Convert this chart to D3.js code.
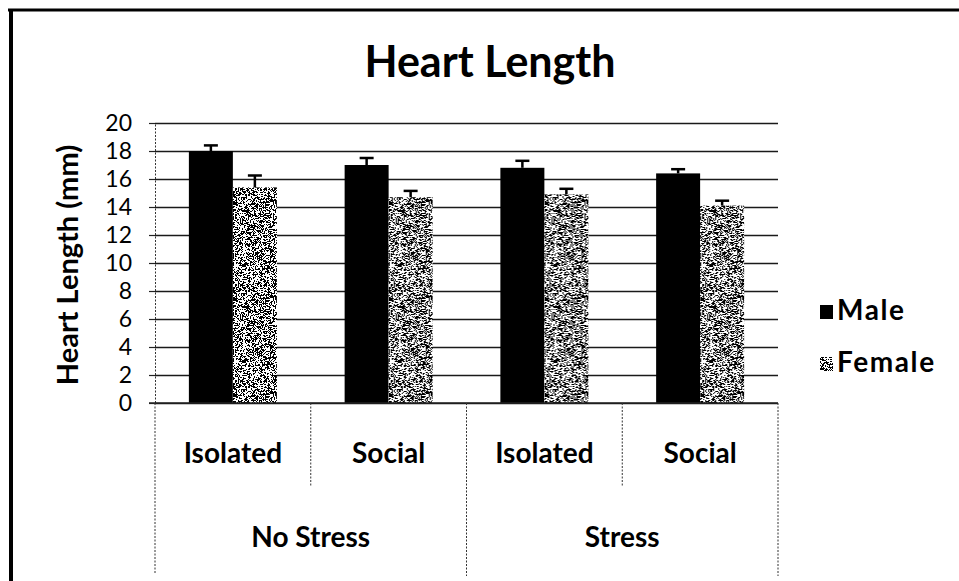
<!DOCTYPE html>
<html>
<head>
<meta charset="utf-8">
<script src="https://cdn.jsdelivr.net/npm/d3@7"></script>
<style>
	html, body { margin: 0; padding: 0; background: #fff; }
	svg { display: block; font-family: Lato, 'Open Sans', sans-serif; }
</style>
</head>
<body>
<div class="chart"></div>
<script>
// data
const stress = ['No Stress', 'Stress']
const housing = ['Isolated', 'Social']
const series = ['Male', 'Female']
const male = [18.0, 17.0, 16.8, 16.4]
const female = [15.4, 14.7, 14.9, 14.1]
const maleErr = [0.4, 0.5, 0.5, 0.3]
const femaleErr = [0.85, 0.45, 0.4, 0.35]
const yTicks = [0, 2, 4, 6, 8, 10, 12, 14, 16, 18, 20]

// one row per bar cluster
const cats = []
stress.forEach(s => housing.forEach(h => cats.push(s + '|' + h)))
const rows = cats.map((c, i) => ({
	key: c,
	stress: c.split('|')[0],
	housing: c.split('|')[1],
	Male: male[i], Female: female[i],
	MaleErr: maleErr[i], FemaleErr: femaleErr[i]
}))

const width = 959
const height = 581
const svg = d3.select('.chart')
	.append('svg')
	.attr('width', width)
	.attr('height', height)
	.attr('viewBox', [0, 0, width, height])

// speckled fill for the female bars (seeded, so it is the same every time)
const rnd = d3.randomLcg(0.4242)
const tile = 96
let speck = ''
for (let i = 0; i < tile; i++) {
	for (let j = 0; j < tile; j++) {
		const r = rnd()
		if (r < 0.38) speck += `M${i},${j}h1v1h-1z`
		else if (r < 0.42) speck += `M${i},${j}h2v1h-2z`
	}
}
const pat = svg.append('defs').append('pattern')
	.attr('id', 'speckle')
	.attr('patternUnits', 'userSpaceOnUse')
	.attr('width', tile)
	.attr('height', tile)
pat.append('rect').attr('width', tile).attr('height', tile).attr('fill', '#fff')
pat.append('path').attr('d', speck).attr('fill', '#000')

// frame of the scanned figure
svg.append('line')
	.attr('x1', 8).attr('x2', width).attr('y1', 10).attr('y2', 10)
	.attr('stroke', '#000').attr('stroke-width', 3)
svg.append('line')
	.attr('x1', 11).attr('x2', 11).attr('y1', 9).attr('y2', height)
	.attr('stroke', '#000').attr('stroke-width', 4)

const x0 = d3.scaleBand().domain(cats).range([155, 778])
const x1 = d3.scaleBand().domain(series).range([0, x0.bandwidth()]).paddingOuter(0.77)
const y = d3.scaleLinear().domain([0, 20]).range([403, 123])

// gridlines + ticks
svg.append('g')
	.attr('transform', 'translate(155,0)')
	.call(d3.axisLeft(y).tickValues(yTicks).tickSize(-(778 - 155)).tickFormat(''))
	.call(g => g.select('.domain').remove())
	.call(g => g.selectAll('line').attr('stroke', '#1a1a1a').attr('stroke-width', 1.6))
svg.append('g')
	.attr('transform', 'translate(155,0)')
	.call(d3.axisLeft(y).tickValues(yTicks).tickSize(6).tickPadding(17))
	.call(g => g.select('.domain').attr('stroke', '#333').attr('stroke-dasharray', '2,1.5'))
	.call(g => g.selectAll('line').attr('stroke', '#222').attr('stroke-width', 1.2))
	.call(g => g.selectAll('text').attr('font-size', '23px').attr('fill', '#000')
		.attr('font-family', 'Lato, sans-serif'))

// bars
const groupsG = svg.selectAll('g.cluster')
	.data(rows)
	.enter()
	.append('g')
	.attr('class', 'cluster')
	.attr('transform', d => `translate(${x0(d.key)},0)`)

groupsG.selectAll('rect')
	.data(d => series.map(s => ({ s, v: d[s], e: d[s + 'Err'] })))
	.enter()
	.append('rect')
	.attr('x', d => x1(d.s))
	.attr('y', d => y(d.v))
	.attr('width', x1.bandwidth())
	.attr('height', d => y(0) - y(d.v))
	.attr('fill', d => d.s === 'Male' ? '#000' : 'url(#speckle)')

// error bars (upper half)
const eb = groupsG.selectAll('g.err')
	.data(d => series.map(s => ({ s, v: d[s], e: d[s + 'Err'] })))
	.enter()
	.append('g')
	.attr('class', 'err')
	.attr('transform', d => `translate(${x1(d.s) + x1.bandwidth() / 2},0)`)
eb.append('line')
	.attr('y1', d => y(d.v)).attr('y2', d => y(d.v + d.e))
	.attr('stroke', '#000').attr('stroke-width', 2.5)
eb.append('line')
	.attr('x1', -7).attr('x2', 7)
	.attr('y1', d => y(d.v + d.e)).attr('y2', d => y(d.v + d.e))
	.attr('stroke', '#000').attr('stroke-width', 2.5)

// zero line
svg.append('line')
	.attr('x1', 149).attr('x2', 778).attr('y1', y(0)).attr('y2', y(0))
	.attr('stroke', '#222').attr('stroke-width', 1.6)

// category axis dividers
const dividers = svg.append('g')
	.attr('stroke', '#333').attr('stroke-width', 1).attr('stroke-dasharray', '2,1.5')
cats.forEach((c, i) => {
	const xl = x0(c) + x0.bandwidth()
	const longLine = i % 2 === 1
	dividers.append('line')
		.attr('x1', xl).attr('x2', xl)
		.attr('y1', y(0)).attr('y2', longLine ? 576 : 487)
})
dividers.append('line')
	.attr('x1', 155).attr('x2', 155).attr('y1', y(0)).attr('y2', 573)

// housing labels
svg.selectAll('text.housing')
	.data(rows)
	.enter()
	.append('text')
	.attr('class', 'housing')
	.text(d => d.housing)
	.attr('x', d => x0(d.key) + x0.bandwidth() / 2)
	.attr('y', 463)
	.attr('text-anchor', 'middle')
	.attr('font-size', '28px')
	.attr('font-weight', 'bold')

// stress labels
svg.selectAll('text.stress')
	.data(stress)
	.enter()
	.append('text')
	.attr('class', 'stress')
	.text(d => d)
	.attr('x', d => x0(d + '|' + housing[0]) + x0.bandwidth())
	.attr('y', 547)
	.attr('text-anchor', 'middle')
	.attr('font-size', '28px')
	.attr('font-weight', 'bold')

// title
svg.append('text')
	.text('Heart Length')
	.attr('x', 490)
	.attr('y', 77)
	.attr('text-anchor', 'middle')
	.attr('font-size', '43px')
	.attr('font-weight', 'bold')

// y axis title
svg.append('text')
	.text('Heart Length (mm)')
	.attr('transform', 'translate(78,265) rotate(-90)')
	.attr('text-anchor', 'middle')
	.attr('font-size', '29px')
	.attr('font-weight', 'bold')

// legend
const legend = svg.selectAll('g.legend')
	.data(series)
	.enter()
	.append('g')
	.attr('class', 'legend')
	.attr('transform', (d, i) => `translate(820,${305 + i * 52})`)
legend.append('rect')
	.attr('width', 13).attr('height', 14)
	.attr('fill', d => d === 'Male' ? '#000' : 'url(#speckle)')
legend.append('text')
	.text(d => d)
	.attr('x', 17)
	.attr('y', 15)
	.attr('font-size', '28px')
	.attr('letter-spacing', '1.6px')
	.attr('font-weight', 'bold')
</script>
</body>
</html>
